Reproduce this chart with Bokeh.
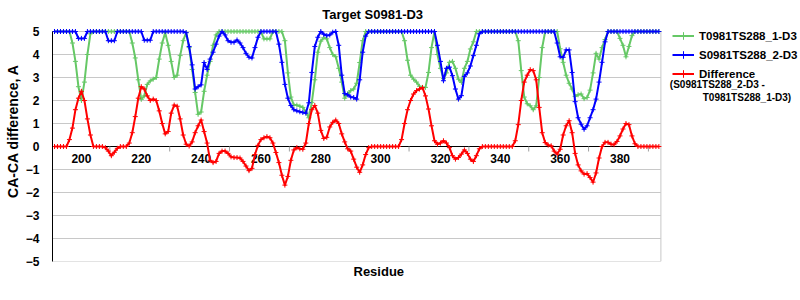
from bokeh.plotting import figure
from bokeh.models import (Range1d, FixedTicker, Label, Legend, LegendItem,
                          ColumnDataSource, Title)
from bokeh.core.properties import value
from bokeh.embed import file_html
from bokeh.resources import INLINE

# ---------------- data ----------------
residues = list(range(191, 394))

model_1 = [  # T0981TS288_1-D3
    5, 5, 5, 5, 5, 5.0, 4.5, 3.7, 2.6, 2.0,
    2.8, 4.0, 4.9, 5, 5, 5, 5, 5, 5, 5,
    5, 5, 5, 5, 5, 5, 4.5, 3.85, 2.9, 2.05,
    2.2, 2.7, 2.85, 2.93, 3.0, 3.8, 4.5, 4.95, 4.4, 3.7,
    3.0, 3.1, 3.95, 4.6, 4.95, 4.3, 3.35, 2.35, 1.4, 1.5,
    2.4, 3.1, 3.7, 4.4, 4.85, 5, 5, 5, 5, 5,
    5, 5, 5, 5, 5, 5, 5, 5, 5, 5,
    4.68, 4.68, 4.68, 5, 5, 5, 5, 4.6, 3.2, 2.15,
    1.8, 1.8, 1.75, 1.7, 1.5, 1.25, 1.92, 2.9, 4.1, 4.58,
    4.73, 4.68, 4.3, 4.0, 3.9, 3.4, 2.8, 2.1, 2.3, 2.43,
    2.5, 2.75, 3.65, 4.6, 5, 5, 5, 5, 5, 5,
    5, 5, 5, 5, 5, 5, 5, 4.6, 3.75, 3.1,
    2.93, 2.8, 2.62, 2.57, 2.57, 3.22, 4.3, 5.0, 4.0, 3.4,
    2.95, 3.2, 3.66, 3.7, 3.4, 2.93, 2.79, 3.4, 3.7, 4.24,
    4.55, 5, 5, 5, 5, 5, 5, 5, 5, 5,
    5, 5, 5, 5, 5, 4.6, 3.3, 2.15, 1.86, 1.77,
    1.6, 1.77, 3.0, 4.3, 5, 5, 5, 5, 5, 4.25,
    3.66, 3.1, 2.75, 2.5, 2.18, 2.25, 2.28, 2.08, 2.13, 2.45,
    3.2, 4.05, 3.8, 4.3, 4.65, 5, 5, 5, 5, 4.7,
    4.4, 3.9, 4.35, 4.82, 5, 5, 5, 5, 5, 5,
    5, 5, 5,
]

model_2 = [  # S0981TS288_2-D3
    5, 5, 5, 5, 5, 5, 5, 5, 4.7, 4.7,
    4.7, 5, 5, 5, 5, 5, 5, 5, 4.6, 4.6,
    4.6, 5, 5, 5, 5, 5, 5, 5, 5, 5,
    4.62, 4.62, 4.62, 5, 5, 5, 5, 5, 5, 5,
    5, 5, 5, 5, 4.95, 4.35, 3.55, 2.5, 2.6, 2.68,
    3.65, 3.35, 3.8, 4.1, 4.45, 4.8, 5.0, 4.85, 4.6, 4.53,
    4.53, 4.63, 4.5, 4.3, 4.05, 3.88, 3.85, 4.3, 4.75, 5,
    5, 5, 5, 5, 5, 4.45, 3.66, 2.7, 2.1, 1.78,
    1.6, 1.55, 1.51, 1.48, 1.45, 1.9, 3.22, 4.35, 4.75, 5,
    4.88, 4.82, 4.85, 4.97, 5, 4.4, 3.1, 2.3, 2.25, 2.15,
    2.13, 2.06, 2.9, 4.1, 4.8, 5, 5, 5, 5, 5,
    5, 5, 5, 5, 5, 5, 5, 5, 5, 5,
    5, 5, 5, 5, 5, 5, 5, 5, 4.4, 3.7,
    2.86, 3.4, 3.45, 3.08, 2.5, 2.06, 2.21, 3.05, 3.2, 3.5,
    3.95, 4.4, 4.9, 5, 5, 5, 5, 5, 5, 5,
    5, 5, 5, 5, 5, 5, 5, 5, 5, 5,
    5, 5, 5, 5, 5, 5, 5, 5, 4.5, 3.9,
    3.88, 4.2, 4.2, 3.22, 1.95, 1.25, 0.97, 0.75, 0.9, 1.25,
    1.6, 2.06, 2.8, 3.66, 4.55, 5, 5, 5, 5, 5,
    5, 5, 5, 5, 5, 5, 5, 5, 5, 5,
    5, 5, 5,
]

difference = [  # S0981TS288_2-D3 - T0981TS288_1-D3
    0, 0, 0, 0, 0, 0.3, 0.8, 1.6, 2.1, 2.4,
    2.0, 1.2, 0.5, 0, 0, 0, 0, -0.05, -0.2, -0.4,
    -0.25, -0.08, 0, 0, 0, 0.15, 0.6, 1.3, 2.1, 2.6,
    2.5, 2.2, 2.0, 2.06, 2.0, 1.55, 1.0, 0.55, 0.65, 1.45,
    1.8, 1.75, 1.2, 0.5, 0.1, 0.02, 0.2, 0.6, 0.9, 1.15,
    0.65, 0.15, -0.6, -0.7, -0.65, -0.3, -0.2, -0.2, -0.3, -0.45,
    -0.48, -0.48, -0.5, -0.65, -0.85, -1.05, -0.95, -0.35, 0.05, 0.3,
    0.38, 0.43, 0.38, 0.15, -0.26, -0.7, -1.25, -1.68, -1.3, -0.6,
    -0.15, -0.05, -0.1, -0.12, 0.15, 1.0, 1.6, 1.78, 1.45, 0.7,
    0.35, 0.4, 0.85, 1.05, 1.15, 1.0, 0.55, 0.2, -0.1, -0.2,
    -0.55, -0.9, -1.12, -0.8, -0.35, -0.05, 0, 0, 0, 0,
    0, 0, 0, 0, 0, 0, 0.3, 1.0, 1.6, 2.0,
    2.28, 2.43, 2.5, 2.56, 2.2, 1.63, 0.9, 0.25, 0.1, 0.15,
    0.25, 0.15, -0.05, -0.4, -0.55, -0.48, -0.33, -0.15, -0.3, -0.55,
    -0.65, -0.4, -0.1, 0, 0, 0, 0, 0, 0, 0,
    0, 0, 0, 0, 0.25, 0.95, 2.0, 2.8, 3.1, 3.34,
    3.3, 2.9, 1.7, 0.6, 0.17, 0.06, 0.03, -0.2, -0.33, -0.12,
    0.5, 0.9, 1.12, 0.6, -0.3, -0.8, -1.06, -1.2, -1.18, -1.35,
    -1.55, -1.15, -0.5, 0.0, 0.18, 0.18, 0.1, 0.08, 0.22, 0.46,
    0.76, 1.0, 0.95, 0.46, 0.12, 0, 0, 0, 0, 0,
    0, 0, 0,
]

x_tick_values = [200, 220, 240, 260, 280, 300, 320, 340, 360, 380]
x_tick_labels = ["200", "220", "240", "260", "280", "300", "320", "340", "360", "380"]
y_tick_values = [-5, -4, -3, -2, -1, 0, 1, 2, 3, 4, 5]

series_names = ["T0981TS288_1-D3", "S0981TS288_2-D3", "Difference"]
series_colors = ["#66c866", "#0000ff", "#ff0000"]
diff_note = ["(S0981TS288_2-D3 -", "T0981TS288_1-D3)"]
title_text = "Target S0981-D3"
x_title = "Residue"
y_title = "CA-CA difference, A"

FONT = "Liberation Sans"

# axis extent of the chart area (the frame is widened/heightened so that the
# legend and title can live inside it without being clipped)
X_LO, X_HI = 190.33, 393.67
Y_LO, Y_HI = -5, 5
PX_PER_X = 3.0          # pixels per residue
PX_PER_Y = 23.0         # pixels per unit
FRAME_W, FRAME_H = 750, 261

p = figure(width=800, height=300, output_backend="svg", toolbar_location=None,
           x_range=Range1d(X_LO, X_LO + FRAME_W / PX_PER_X),
           y_range=Range1d(Y_LO, Y_LO + FRAME_H / PX_PER_Y),
           x_axis_location=None,
           min_border_left=50, min_border_right=0,
           min_border_top=0, min_border_bottom=39)
p.background_fill_color = "white"
p.border_fill_color = "white"
p.outline_line_color = None
p.xgrid.visible = False
p.ygrid.visible = False

# horizontal grid lines limited to the chart area
p.segment(x0=[X_LO] * len(y_tick_values), x1=[X_HI] * len(y_tick_values),
          y0=y_tick_values, y1=y_tick_values, line_color="#c8c8c8", line_width=1)
# right border of chart area
p.segment(x0=[X_HI], x1=[X_HI], y0=[Y_LO], y1=[Y_HI], line_color="#c8c8c8", line_width=1)

ax = p.yaxis[0]
ax.bounds = (Y_LO, Y_HI)
ax.ticker = FixedTicker(ticks=y_tick_values)
ax.major_label_overrides = {v: (("\u2212" + str(-v)) if v < 0 else str(v)) for v in y_tick_values}
ax.major_tick_line_color = None
ax.minor_tick_line_color = None
ax.axis_line_color = "black"
ax.major_label_standoff = 7
ax.major_label_text_font = FONT
ax.major_label_text_font_style = "bold"
ax.major_label_text_font_size = "12px"
ax.major_label_text_color = "black"

# y axis title, centred on the -5..5 chart area (frame extends above it)
p.add_layout(Title(text=y_title, align="center",
                   offset=-((Y_LO + Y_HI) / 2 - (Y_LO + FRAME_H / PX_PER_Y + Y_LO) / 2) * PX_PER_Y * -1,
                   standoff=4, text_font=FONT, text_font_style="bold",
                   text_font_size="14px", text_color="black"), "left")

# zero line acting as x axis, with ticks and labels
p.segment(x0=[X_LO], x1=[X_HI], y0=[0], y1=[0], line_color="black", line_width=1)
tick_marks = [t + 9.5 for t in x_tick_values]
p.segment(x0=tick_marks, y0=[0] * len(tick_marks), x1=tick_marks,
          y1=[-5 / PX_PER_Y] * len(tick_marks), line_color="#a0a0a0", line_width=1)
p.text(x=x_tick_values, y=[0] * len(x_tick_values), text=x_tick_labels,
       text_align="center", text_baseline="top", y_offset=7,
       text_font=value(FONT), text_font_style="bold", text_font_size="12px",
       text_color="black")

# series
src = ColumnDataSource(dict(x=residues, a=model_1, b=model_2, d=difference))
items = []
for col, name, color in zip(["a", "b", "d"], series_names, series_colors):
    ln = p.line("x", col, source=src, line_color=color, line_width=2, line_join="round")
    mk = p.scatter("x", col, source=src, marker="cross", size=5, line_color=color, line_width=1)
    items.append(LegendItem(label=name, renderers=[ln, mk]))

legend = Legend(items=items, location=(620, 178), orientation="vertical",
                glyph_width=22, glyph_height=19, label_height=19, label_standoff=5,
                padding=0, spacing=0, margin=0, border_line_color=None,
                background_fill_alpha=0, label_text_font=FONT,
                label_text_font_style="bold", label_text_font_size="11.5px",
                label_text_color="black")
p.add_layout(legend)

note_x = [X_LO + (669 - 50) / PX_PER_X, X_LO + (702 - 50) / PX_PER_X]
note_y = [Y_HI - (84 - 31) / PX_PER_Y, Y_HI - (97 - 31) / PX_PER_Y]
for t, nx, ny in zip(diff_note, note_x, note_y):
    p.add_layout(Label(x=nx, y=ny, text=t, text_font=FONT,
                       text_font_style="bold", text_font_size="10px", text_baseline="middle",
                       text_align="left", text_color="black"))

# title inside the (extended) frame
p.add_layout(Label(x=X_LO + (371 - 50) / PX_PER_X, y=Y_HI + (31 - 13.5) / PX_PER_Y,
                   text=title_text, text_font=FONT, text_font_style="bold",
                   text_font_size="13px", text_baseline="middle", text_align="center",
                   text_color="black"))

p.add_layout(Title(text=x_title, align="left", offset=301, standoff=0,
                   text_font=FONT, text_font_style="bold", text_font_size="13px",
                   text_color="black"), "below")

open("out.html", "w").write(file_html(p, INLINE))
